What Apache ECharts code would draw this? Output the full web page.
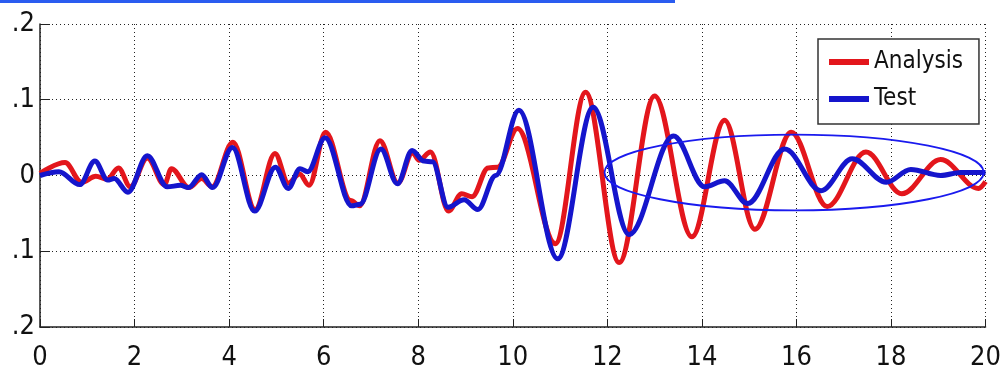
<!DOCTYPE html>
<html>
<head>
<meta charset="utf-8">
<script src="https://cdn.jsdelivr.net/npm/echarts@6/dist/echarts.min.js"></script>
<style>
  html, body { margin: 0; padding: 0; background: #ffffff; }
  #chart { width: 1004px; height: 371px; }
</style>
</head>
<body>
<div id="chart"></div>
<script>
// Response history: time (s) against response amplitude
const analysisTime  = [0, 0.53, 0.88, 1.18, 1.42, 1.66, 1.91, 2.27, 2.63, 2.78, 3.15, 3.42, 3.64, 4.08, 4.55, 4.97, 5.25, 5.49, 5.69, 6.04, 6.57, 6.76, 7.19, 7.57, 7.88, 8.02, 8.26, 8.64, 8.92, 9.14, 9.48, 9.68, 10.1, 10.9, 11.54, 12.25, 13.0, 13.79, 14.48, 15.12, 15.89, 16.65, 17.47, 18.23, 19.05, 19.85, 20.0];
const analysisValue = [0.003, 0.017, -0.009, -0.001, -0.005, 0.010, -0.015, 0.023, -0.012, 0.009, -0.016, -0.004, -0.015, 0.044, -0.045, 0.029, -0.010, 0.002, -0.013, 0.057, -0.033, -0.040, 0.046, -0.010, 0.030, 0.020, 0.031, -0.047, -0.024, -0.028, 0.010, 0.011, 0.062, -0.090, 0.110, -0.115, 0.105, -0.081, 0.073, -0.071, 0.057, -0.041, 0.031, -0.024, 0.021, -0.017, -0.008];

const testTime  = [0, 0.4, 0.84, 1.16, 1.43, 1.57, 1.86, 2.27, 2.69, 2.97, 3.14, 3.42, 3.65, 4.07, 4.54, 4.98, 5.25, 5.5, 5.66, 6.03, 6.59, 6.77, 7.21, 7.56, 7.87, 8.12, 8.3, 8.63, 8.97, 9.26, 9.64, 10.13, 10.95, 11.7, 12.46, 13.4, 14.06, 14.48, 14.97, 15.75, 16.52, 17.18, 17.9, 18.42, 19.05, 19.47, 20.0];
const testValue = [0, 0.005, -0.012, 0.019, -0.006, -0.004, -0.022, 0.026, -0.015, -0.013, -0.016, 0.001, -0.016, 0.037, -0.047, 0.011, -0.017, 0.009, 0.005, 0.050, -0.040, -0.038, 0.035, -0.011, 0.033, 0.019, 0.018, -0.042, -0.032, -0.045, 0.0, 0.086, -0.110, 0.090, -0.078, 0.052, -0.015, -0.007, -0.037, 0.035, -0.020, 0.022, -0.009, 0.008, 0.0, 0.004, 0.004];

// y tick values and the text printed beside them
const yTickValues = [0.2, 0.1, 0, -0.1, -0.2];
const yTickLabels = ['.2', '.1', '0', '.1', '.2'];

// highlighted decay region (time range, amplitude range)
const highlightTime  = [11.94, 19.96];
const highlightValue = [-0.046, 0.054];

const zip = (xs, ys) => xs.map((x, i) => [x, ys[i]]);

const FONT = "'Liberation Sans Narrow', 'DejaVu Sans Condensed', 'Arial Narrow', sans-serif";
const RED = '#e3161c';
const BLUE = '#1515cc';

const chart = echarts.init(document.getElementById('chart'), null, { renderer: 'canvas' });

const option = {
  backgroundColor: '#ffffff',
  animation: false,
  grid: { left: 40, right: 14, top: 24, bottom: 43, containLabel: false },
  legend: {
    orient: 'vertical',
    left: 818,
    top: 39,
    padding: [11, 16, 13, 11],
    itemGap: 13,
    itemWidth: 40,
    itemHeight: 6,
    itemTextGap: 13,
    icon: 'rect',
    borderColor: '#333333',
    borderWidth: 1.5,
    backgroundColor: '#ffffff',
    textStyle: { fontFamily: FONT, fontSize: 24, color: '#111111' },
    data: ['Analysis', 'Test']
  },
  xAxis: {
    type: 'value',
    min: 0,
    max: 20,
    interval: 2,
    axisLine: { show: true, onZero: false, lineStyle: { color: '#222222', width: 1.5 } },
    axisTick: { show: true, inside: true, length: 8, lineStyle: { color: '#222222' } },
    axisLabel: { fontFamily: FONT, fontSize: 27, color: '#111111', margin: 17 },
    splitLine: { show: true, lineStyle: { color: '#222222', type: [1, 3], width: 1 } }
  },
  yAxis: {
    type: 'value',
    min: -0.2,
    max: 0.2,
    interval: 0.1,
    axisLine: { show: true, onZero: false, lineStyle: { color: '#222222', width: 1.5 } },
    axisTick: { show: true, inside: true, length: 10, lineStyle: { color: '#222222' } },
    axisLabel: {
      fontFamily: FONT, fontSize: 27, color: '#111111', margin: 5,
      formatter: v => {
        const i = yTickValues.findIndex(t => Math.abs(t - v) < 1e-9);
        return i >= 0 ? yTickLabels[i] : '';
      }
    },
    splitLine: { show: true, lineStyle: { color: '#222222', type: [1, 3], width: 1 } }
  },
  series: [
    {
      name: 'Analysis',
      type: 'line',
      data: zip(analysisTime, analysisValue),
      showSymbol: false,
      smooth: 0.35,
      smoothMonotone: 'x',
      color: RED,
      lineStyle: { color: RED, width: 5 },
      z: 2
    },
    {
      name: 'Test',
      type: 'line',
      data: zip(testTime, testValue),
      showSymbol: false,
      smooth: 0.35,
      smoothMonotone: 'x',
      color: BLUE,
      lineStyle: { color: BLUE, width: 5 },
      z: 3
    }
  ]
};

chart.setOption(option);

// outline around the decaying tail, placed through the grid's coordinate system
const p0 = chart.convertToPixel({ gridIndex: 0 }, [highlightTime[0], highlightValue[0]]);
const p1 = chart.convertToPixel({ gridIndex: 0 }, [highlightTime[1], highlightValue[1]]);

chart.setOption({
  graphic: [
    {
      type: 'rect',
      shape: { x: 0, y: 0, width: 675, height: 3 },
      style: { fill: '#2a5cf0' },
      z: 100
    },
    {
      type: 'ellipse',
      shape: {
        cx: (p0[0] + p1[0]) / 2,
        cy: (p0[1] + p1[1]) / 2,
        rx: Math.abs(p1[0] - p0[0]) / 2,
        ry: Math.abs(p1[1] - p0[1]) / 2
      },
      style: { fill: 'none', stroke: '#1a1aee', lineWidth: 1.8 },
      z: 100
    }
  ]
});
</script>
</body>
</html>
